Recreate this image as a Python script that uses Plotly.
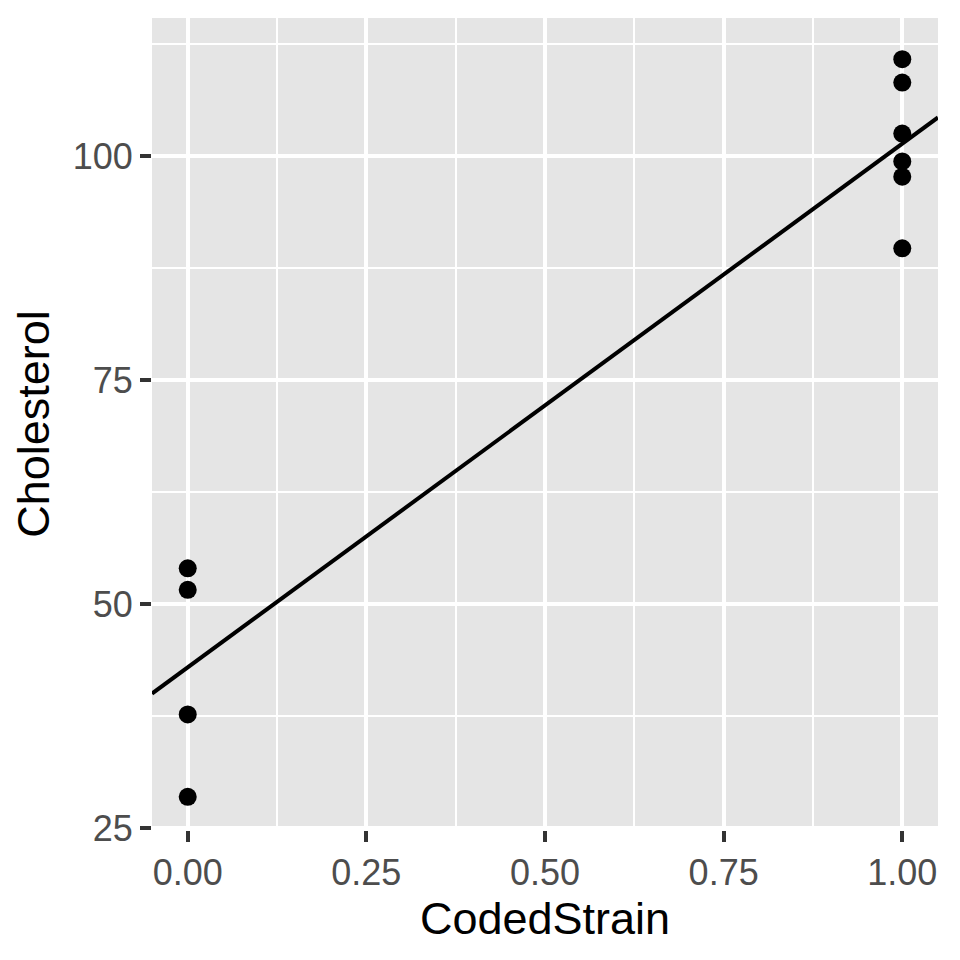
import numpy as np
import plotly.graph_objects as go

# data
coded_strain = [0, 0, 0, 0, 1, 1, 1, 1, 1, 1]
cholesterol = [54.0, 51.6, 37.7, 28.5, 110.8, 108.2, 102.5, 99.4, 97.7, 89.7]

x_ticks = [0, 0.25, 0.5, 0.75, 1.0]
x_labels = ["0.00", "0.25", "0.50", "0.75", "1.00"]
y_ticks = [25, 50, 75, 100]

X_RANGE = [-0.05, 1.05]
Y_RANGE = [24.8, 115.4]

# least squares line, like geom_smooth(method = "lm", se = FALSE)
slope, intercept = np.polyfit(coded_strain, cholesterol, 1)
line_x = np.array(X_RANGE)
line_y = intercept + slope * line_x

fig = go.Figure()
fig.add_trace(go.Scatter(x=line_x, y=line_y, mode="lines",
                         line=dict(color="black", width=4),
                         hoverinfo="skip", showlegend=False))
fig.add_trace(go.Scatter(x=coded_strain, y=cholesterol, mode="markers",
                         marker=dict(color="black", size=18),
                         showlegend=False))

tick_font = dict(family="Liberation Sans, Arial, sans-serif", size=36, color="#4D4D4D")
title_font = dict(family="Liberation Sans, Arial, sans-serif", size=45, color="black")

# page body has an 8px margin, so margins are shifted to compensate
fig.update_layout(
    width=960, height=960,
    paper_bgcolor="white", plot_bgcolor="#E5E5E5",
    margin=dict(l=144, r=30, t=10, b=138),
    xaxis=dict(range=X_RANGE, tickvals=x_ticks, ticktext=x_labels,
               showgrid=True, gridcolor="white", gridwidth=3.5,
               zeroline=False, showline=False,
               ticks="outside", ticklen=11, tickwidth=4, tickcolor="#333333",
               tickfont=tick_font,
               minor=dict(showgrid=True, gridcolor="white", gridwidth=1.8,
                          tick0=0.125, dtick=0.25),
               title=dict(text="CodedStrain", font=title_font, standoff=8),
               automargin=False),
    yaxis=dict(range=Y_RANGE, tickvals=y_ticks,
               showgrid=True, gridcolor="white", gridwidth=3.5,
               zeroline=False, showline=False,
               ticks="outside", ticklen=11, tickwidth=4, tickcolor="#333333",
               tickfont=tick_font,
               minor=dict(showgrid=True, gridcolor="white", gridwidth=1.8,
                          tick0=12.5, dtick=25),
               title=dict(text="Cholesterol", font=title_font, standoff=12),
               automargin=False),
)

fig.write_html("out.html")
